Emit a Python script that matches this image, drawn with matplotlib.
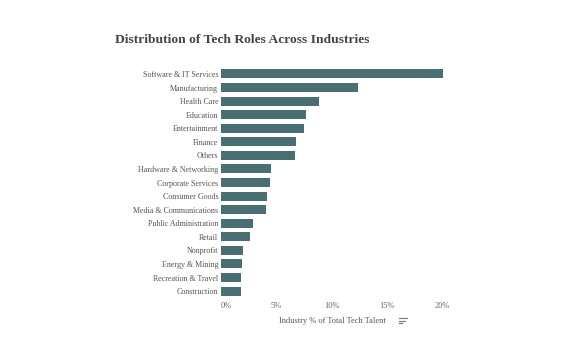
import matplotlib.pyplot as plt
from matplotlib.lines import Line2D

# Udział branż w ogólnej liczbie specjalistów IT (%)
branze = ["Software & IT Services", "Manufacturing", "Health Care", "Education",
          "Entertainment", "Finance", "Others", "Hardware & Networking",
          "Corporate Services", "Consumer Goods", "Media & Communications",
          "Public Administration", "Retail", "Nonprofit", "Energy & Mining",
          "Recreation & Travel", "Construction"]
udzial = [20.1, 12.4, 8.85, 7.7, 7.5, 6.8, 6.65, 4.5, 4.4, 4.2, 4.05,
          2.9, 2.6, 2.0, 1.9, 1.8, 1.8]
ticki = [0, 5, 10, 15, 20]
ticki_opis = ["0%", "5%", "10%", "15%", "20%"]

plt.rcParams["font.family"] = ["Liberation Serif", "DejaVu Serif"]

fig = plt.figure(figsize=(5.68, 3.48), dpi=100)
ax = fig.add_axes([0.389, 0.144, 0.419, 0.663])

y = range(len(branze))
ax.barh(y, udzial, height=0.66, color="#496f73")
ax.set_ylim(len(branze) - 0.5, -0.5)
ax.set_xlim(0, 21.5)

ax.set_yticks(list(y))
ax.set_yticklabels(branze, fontsize=5.8, color="#555555")
ax.set_xticks(ticki)
ax.set_xticklabels(ticki_opis, fontsize=6, color="#666666")
ax.get_xticklabels()[0].set_horizontalalignment("left")
ax.tick_params(axis="y", length=0, pad=2)
ax.tick_params(axis="x", length=0, pad=3)
for s in ax.spines.values():
    s.set_visible(False)

ax.set_xlabel("Industry % of Total Tech Talent", fontsize=6, color="#555555")
ax.xaxis.set_label_coords(0.47, -0.083)

fig.text(0.202, 0.885, "Distribution of Tech Roles Across Industries",
         fontsize=9.7, fontweight="bold", color="#444444", ha="left", va="center")

# ikonka sortowania obok opisu osi
for i, dl in enumerate([8, 6, 3]):
    yy = 1 - (318 + i * 2.5) / 348
    fig.add_artist(Line2D([399 / 568, (399 + dl) / 568], [yy, yy],
                          color="#777777", lw=0.8))

fig.savefig("out.png", dpi=100)
